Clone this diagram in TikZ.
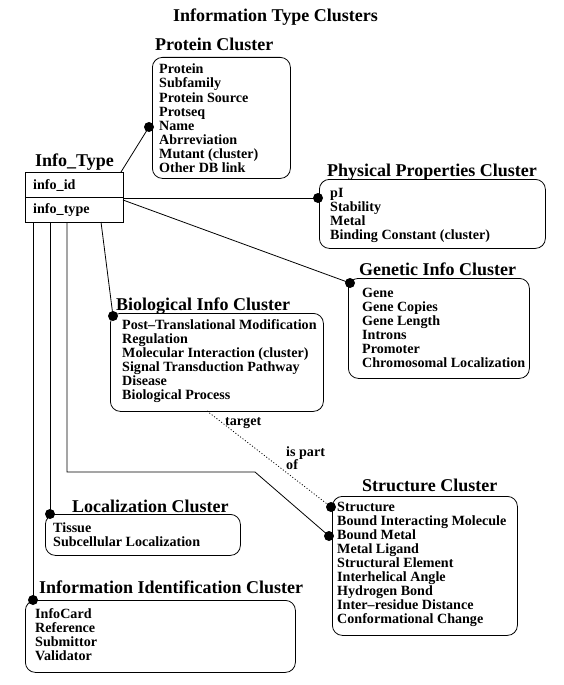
\documentclass[tikz,border=0pt]{standalone}
\usepackage{fontspec}
\setmainfont{Liberation Serif}
\begin{document}
\begin{tikzpicture}[x=1pt,y=-1pt,
  itemtxt/.style={anchor=base west,inner sep=0pt,font=\bfseries\fontsize{14.1}{14}\selectfont},
  ttl/.style={anchor=base west,inner sep=0pt,font=\bfseries\fontsize{18}{20}\selectfont},
  clbox/.style={draw,line width=0.8pt,rounded corners=10pt,anchor=north west,inner sep=0pt},
  dotnode/.style={circle,fill=black,inner sep=0pt,minimum size=10pt},
  conn/.style={line width=0.8pt},
  dotconn/.style={line width=0.8pt,dash pattern=on 1pt off 2pt}]
\useasboundingbox (0,0) rectangle (564,685);
\fill[white] (0,0) rectangle (564,685);

\node[ttl] (title) at (173,22) {Information Type Clusters};

% Info_Type
\node[ttl] (itt) at (35,166) {Info\_Type};
\node[draw,line width=0.8pt,anchor=north west,inner sep=0pt,minimum width=98pt,minimum height=50pt] (it) at (25,172) {};
\draw[conn] (it.west) -- (it.east);
\node[itemtxt] (iid) at (33,189) {info\_id};
\node[itemtxt] (ity) at (33,213) {info\_type};

% Protein Cluster
\node[ttl] (pt) at (155,51) {Protein Cluster};
\node[clbox,minimum width=138pt,minimum height=121pt] (pb) at (152,57) {};
\foreach \t [count=\i] in {Protein,Subfamily,Protein Source,Protseq,Name,Abrreviation,Mutant (cluster),Other DB link}
  \node[itemtxt] (p\i) at (159,{74+14*(\i-1)}) {\t};

% Physical Properties Cluster
\node[ttl] (ppt) at (327,176) {Physical Properties Cluster};
\node[clbox,minimum width=226pt,minimum height=69pt] (ppb) at (319,179) {};
\foreach \t [count=\i] in {pI,Stability,Metal,Binding Constant (cluster)}
  \node[itemtxt] (pp\i) at (330,{197+14*(\i-1)}) {\t};

% Genetic Info Cluster
\node[ttl] (gt) at (359,275) {Genetic Info Cluster};
\node[clbox,minimum width=181pt,minimum height=100pt] (gb) at (348,278) {};
\foreach \t [count=\i] in {Gene,Gene Copies,Gene Length,Introns,Promoter,Chromosomal Localization}
  \node[itemtxt] (g\i) at (362,{297+14*(\i-1)}) {\t};

% Biological Info Cluster
\node[ttl] (bt) at (116,310) {Biological Info Cluster};
\node[clbox,minimum width=213pt,minimum height=98pt] (bb) at (110,313) {};
\foreach \t [count=\i] in {Post–Translational Modification,Regulation,Molecular Interaction (cluster),Signal Transduction Pathway,Disease,Biological Process}
  \node[itemtxt] (b\i) at (122,{329+14*(\i-1)}) {\t};

% Structure Cluster
\node[ttl] (st) at (362,491) {Structure Cluster};
\node[clbox,minimum width=185pt,minimum height=139pt] (sb) at (332,496) {};
\foreach \t [count=\i] in {Structure,Bound Interacting Molecule,Bound Metal,Metal Ligand,Structural Element,Interhelical Angle,Hydrogen Bond,Inter–residue Distance,Conformational Change}
  \node[itemtxt] (s\i) at (337,{511+14*(\i-1)}) {\t};

% Localization Cluster
\node[ttl] (lt) at (72,512) {Localization Cluster};
\node[clbox,minimum width=195pt,minimum height=41pt] (lb) at (45,514) {};
\node[itemtxt] (l1) at (53,532) {Tissue};
\node[itemtxt] (l2) at (53,546) {Subcellular Localization};

% Information Identification Cluster
\node[ttl] (idt) at (39,593) {Information Identification Cluster};
\node[clbox,minimum width=270pt,minimum height=72pt] (idb) at (25,600) {};
\foreach \t [count=\i] in {InfoCard,Reference,Submittor,Validator}
  \node[itemtxt] (id\i) at (35,{618+14*(\i-1)}) {\t};

% labels
\node[itemtxt] (lt1) at (225,425) {target};
\node[itemtxt] (lt2) at (286,456) {is part};
\node[itemtxt] (lt3) at (286,469) {of};

% start coordinates on Info_Type box
\coordinate (c1) at (121,172);
\coordinate (c2) at (123,198);
\coordinate (c3) at (123,200);
\coordinate (c4) at (101,222);
\coordinate (c5) at (67,222);
\coordinate (c6) at (50,222);
\coordinate (c7) at (33,222);
\coordinate (k1) at (67,472);
\coordinate (k2) at (255,472);
\coordinate (c8) at (207,411);

% dots
\node[dotnode] (dp) at (149,127) {};
\node[dotnode] (dpp) at (318,198) {};
\node[dotnode] (dg) at (350,283) {};
\node[dotnode] (db) at (113,316) {};
\node[dotnode] (ds1) at (331,507) {};
\node[dotnode] (ds2) at (329,536) {};
\node[dotnode] (dl) at (50,514) {};
\node[dotnode] (did) at (33,600) {};

% connectors
\draw[conn] (c1) -- (dp.center);
\draw[conn] (c2) -- (dpp.center);
\draw[conn] (c3) -- (dg.center);
\draw[conn] (c4) -- (db.center);
\draw[conn] (c5) -- (k1) -- (k2) -- (ds2.center);
\draw[conn] (c6) -- (dl.center);
\draw[conn] (c7) -- (did.center);
\draw[dotconn] (c8) -- (ds1.center);
\end{tikzpicture}
\end{document}
